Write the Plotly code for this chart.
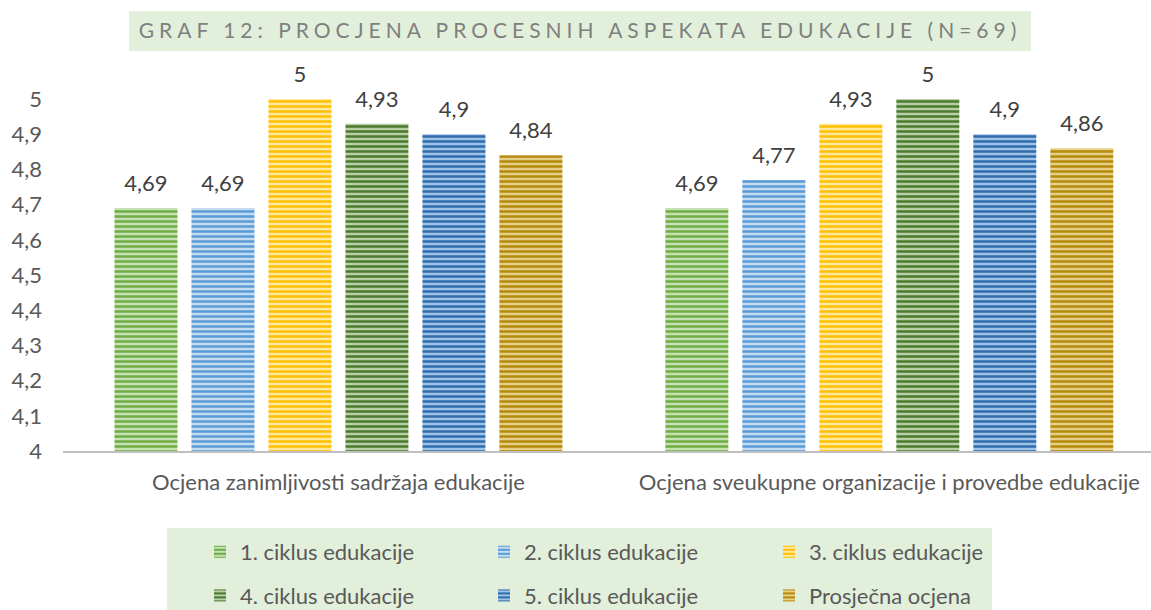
import plotly.graph_objects as go

categories = ["Ocjena zanimljivosti sadržaja edukacije",
              "Ocjena sveukupne organizacije i provedbe edukacije"]
series_names = ["1. ciklus edukacije", "2. ciklus edukacije", "3. ciklus edukacije",
                "4. ciklus edukacije", "5. ciklus edukacije", "Prosječna ocjena"]
ciklus1 = [4.69, 4.69]
ciklus2 = [4.69, 4.77]
ciklus3 = [5.00, 4.93]
ciklus4 = [4.93, 5.00]
ciklus5 = [4.90, 4.90]
prosjek = [4.84, 4.86]
series_values = [ciklus1, ciklus2, ciklus3, ciklus4, ciklus5, prosjek]
y_ticks = [4.0, 4.1, 4.2, 4.3, 4.4, 4.5, 4.6, 4.7, 4.8, 4.9, 5.0]
title_text = "GRAF 12: PROCJENA PROCESNIH ASPEKATA EDUKACIJE (N=69)"

fg_colors = ["#6EAC44", "#5B9BD5", "#FFC000", "#4A7A2C", "#2E6DAE", "#B58A0A"]
bg_colors = ["#C6E1B4", "#C4DCF2", "#FFE8A0", "#B9CFA8", "#9FC2E6", "#E6CF87"]
legend_ids = ["legend", "legend2", "legend3", "legend", "legend2", "legend3"]

FONT = "Lato"
FS = 22
GAP = 0.1615

def fmt(v):
    return f"{v:g}".replace(".", ",")

fig = go.Figure()
for i, (name, vals) in enumerate(zip(series_names, series_values)):
    fig.add_trace(go.Bar(
        x=categories, y=vals, name=name,
        legend=legend_ids[i], legendgroup=f"g{i}",
        offsetgroup=f"g{i}", alignmentgroup="a",
        marker=dict(color=fg_colors[i], line=dict(width=0),
                    pattern=dict(shape="-", fgcolor=fg_colors[i], bgcolor=bg_colors[i],
                                 size=5, solidity=0.5, fillmode="replace")),
        hoverinfo="skip",
    ))
for i, (name, vals) in enumerate(zip(series_names, series_values)):
    fig.add_trace(go.Scatter(
        x=categories, y=vals, mode="markers+text",
        text=[fmt(v) for v in vals], textposition="top center",
        textfont=dict(family=FONT, size=FS, color="#404040"),
        marker=dict(size=17, opacity=0, color=fg_colors[i]),
        offsetgroup=f"g{i}", alignmentgroup="a",
        showlegend=False, cliponaxis=False, hoverinfo="skip",
    ))

shapes = [
    dict(type="rect", xref="paper", yref="paper", x0=0.0607, x1=0.8897, y0=1.1364, y1=1.25,
         fillcolor="#E2EFDA", line=dict(width=0), layer="below"),
    dict(type="rect", xref="paper", yref="paper", x0=0.0956, x1=0.8539, y0=-0.4517, y1=-0.21875,
         fillcolor="#E2EFDA", line=dict(width=0), layer="below"),
]

leg_common = dict(orientation="v", yref="container", yanchor="top", y=1 - 531 / 610,
                  xanchor="left", bgcolor="rgba(0,0,0,0)", traceorder="grouped",
                  tracegroupgap=12, font=dict(family=FONT, size=FS, color="#595959"))

fig.update_layout(
    width=1151, height=610,
    margin=dict(l=63, r=0, t=99, b=159, autoexpand=False),
    paper_bgcolor="white", plot_bgcolor="white",
    separators=",.",
    barmode="group", bargap=GAP, bargroupgap=0.182,
    scattermode="group", scattergap=GAP,
    font=dict(family=FONT, size=FS, color="#595959"),
    title=dict(text=title_text, x=0.4752, xref="paper", xanchor="center",
               y=1 - 31 / 610, yref="container", yanchor="middle",
               font=dict(family=FONT, size=21, color="#7F7F7F")),
    xaxis=dict(type="category", range=[-0.5, 1.475], showgrid=False, zeroline=False,
               showline=True, linecolor="#BFBFBF", linewidth=2, ticks="",
               ticklabelstandoff=11, tickfont=dict(family=FONT, size=FS, color="#595959"),
               fixedrange=True),
    yaxis=dict(range=[4, 5], tickvals=y_ticks, ticktext=[fmt(v) for v in y_ticks],
               showgrid=False, zeroline=False, showline=False, ticks="",
               ticklabelstandoff=20, tickfont=dict(family=FONT, size=FS, color="#595959"),
               fixedrange=True),
    legend=dict(x=(200 - 63) / 1088, **leg_common),
    legend2=dict(x=(484 - 63) / 1088, **leg_common),
    legend3=dict(x=(769 - 63) / 1088, **leg_common),
    shapes=shapes,
    showlegend=True,
)

post = """
document.body.style.margin = '0';
document.body.style.overflow = 'hidden';
var s = document.querySelectorAll('.gtitle');
s.forEach(function(t){ t.style.letterSpacing = '5px'; });
"""
fig.write_html("out.html", post_script=post, config={"displayModeBar": False})
